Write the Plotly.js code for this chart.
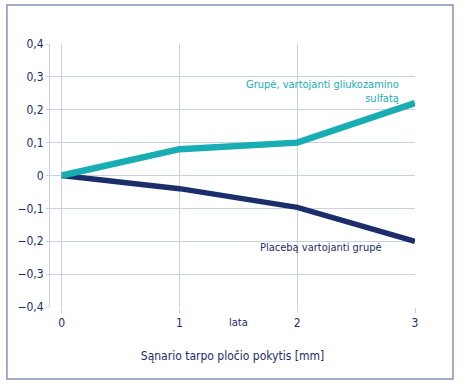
<!DOCTYPE html>
<html><head><meta charset="utf-8">
<script src="https://cdn.plot.ly/plotly-3.0.1.min.js"></script>
<style>html,body{margin:0;padding:0;background:#fff}#c{width:463px;height:386px}</style>
</head><body><div id="c"></div>
<script>
const years = [0, 1, 2, 3];
const glucosamine = [0, 0.08, 0.1, 0.22];
const placebo = [0, -0.04, -0.097, -0.2];
const yTickVals = [-0.4, -0.3, -0.2, -0.1, 0, 0.1, 0.2, 0.3, 0.4];
const yTickText = ['−0,4', '−0,3', '−0,2', '−0,1', '0', '0,1', '0,2', '0,3', '0,4'];
const xTickVals = [0, 1, 2, 3];
const xTickText = ['0', '1', '2', '3'];
const seriesNames = ['Grupė, vartojanti gliukozamino<br>sulfatą', 'Placebą vartojanti grupė'];

const FONT = '"Liberation Sans Narrow", "DejaVu Sans Condensed", Roboto, sans-serif';
const NAVY = '#1c2d6b';
const TEAL = '#17adb3';
const GRID = '#c9d0e2';

const traces = [
  {x: years, y: placebo, mode: 'lines', line: {color: NAVY, width: 5.5}, name: seriesNames[1]},
  {x: years, y: glucosamine, mode: 'lines', line: {color: TEAL, width: 6.5}, name: seriesNames[0]}
];

const layout = {
  width: 463, height: 386,
  margin: {l: 50, r: 48, t: 44, b: 79},
  paper_bgcolor: '#fff', plot_bgcolor: '#fff',
  showlegend: false,
  font: {family: FONT, size: 12, color: NAVY},
  xaxis: {
    range: [-0.1, 3], tickvals: xTickVals, ticktext: xTickText,
    showgrid: true, gridcolor: GRID, gridwidth: 1,
    zeroline: false, showline: false,
    ticks: 'outside', ticklen: 5, tickcolor: GRID,
    tickfont: {family: FONT, size: 12, color: NAVY},
    title: {text: 'Sąnario tarpo pločio pokytis [mm]', font: {family: FONT, size: 12, color: NAVY}, standoff: 22}
  },
  yaxis: {
    range: [-0.4, 0.4], tickvals: yTickVals, ticktext: yTickText,
    showgrid: true, gridcolor: GRID, gridwidth: 1,
    zeroline: false, showline: true, linecolor: GRID, linewidth: 1,
    ticks: 'outside', ticklen: 3, tickcolor: GRID,
    tickfont: {family: FONT, size: 12, color: NAVY}
  },
  shapes: [
    {type: 'rect', xref: 'paper', yref: 'paper', x0: -0.118, x1: 1.104, y0: -0.274, y1: 1.148,
     line: {color: '#8391b3', width: 1.5}, fillcolor: 'rgba(0,0,0,0)'}
  ],
  annotations: [
    {x: 3, y: 0.255, xref: 'x', yref: 'y', text: seriesNames[0], showarrow: false,
     xanchor: 'right', xshift: -14, align: 'right', font: {family: FONT, size: 11, color: TEAL}},
    {x: 2.2, y: -0.22, xref: 'x', yref: 'y', text: seriesNames[1], showarrow: false,
     xanchor: 'center', font: {family: FONT, size: 11, color: NAVY}},
    {x: 1.5, y: 0, xref: 'x', yref: 'paper', yanchor: 'top', yshift: -7, text: 'lata', showarrow: false,
     xanchor: 'center', font: {family: FONT, size: 11, color: NAVY}}
  ]
};

Plotly.newPlot('c', traces, layout, {displayModeBar: false, staticPlot: true});
</script></body></html>
